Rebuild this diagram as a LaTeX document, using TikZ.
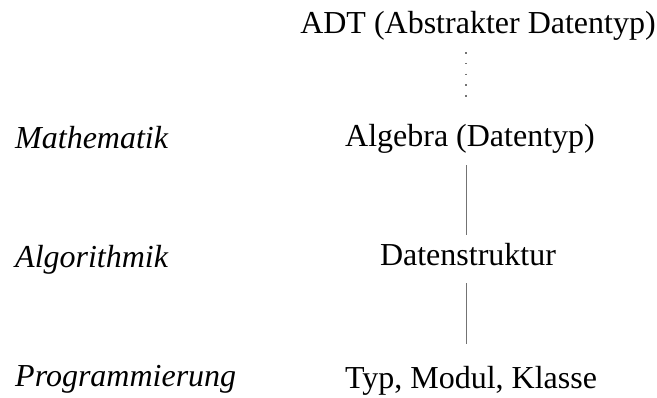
\documentclass[tikz,border=0pt]{standalone}
\usepackage{fontspec}
\setmainfont{Liberation Serif}
\usepackage{tikz}

\begin{document}
\begin{tikzpicture} [x=1pt, y=-1pt, every node/.style={inner sep=0, anchor=base, text height=22pt, text depth=7pt, font=\fontsize{32}{38}\selectfont}, ebene/.style={anchor=base west, font=\fontsize{32}{38}\selectfont\itshape}, verbindung/.style={black!55, line width=1pt}]
				\useasboundingbox (0,0) rectangle (657,398);
				%\draw[help lines] (0,0) grid[step=50] (657,398);
				\node (adt) at (478,34) {ADT (Abstrakter Datentyp)};
				\node (alg) at (470,147) {Algebra (Datentyp)};
				\node (dat) at (468,266) {Datenstruktur};
				\node (typ) at (471,389) {Typ, Modul, Klasse};
				\node[ebene] (mat) at (15,149) {Mathematik};
				\node[ebene] (algo) at (15,268) {Algorithmik};
				\node[ebene] (prog) at (15,387) {Programmierung};
				\draw[verbindung, line width=1.6pt, dash pattern=on 1.6pt off 9.1pt, shorten <=11pt, shorten >=27pt] ([xshift=-12pt]adt.south) -- ([xshift=-4pt]alg.north);
				\draw[verbindung, shorten <=11pt, shorten >=9pt] ([xshift=-4pt]alg.south) -- ([xshift=-2pt]dat.north);
				\draw[verbindung, shorten <=10pt, shorten >=23pt] ([xshift=-2pt]dat.south) -- ([xshift=-5pt]typ.north);
			\end{tikzpicture}
\end{document}
